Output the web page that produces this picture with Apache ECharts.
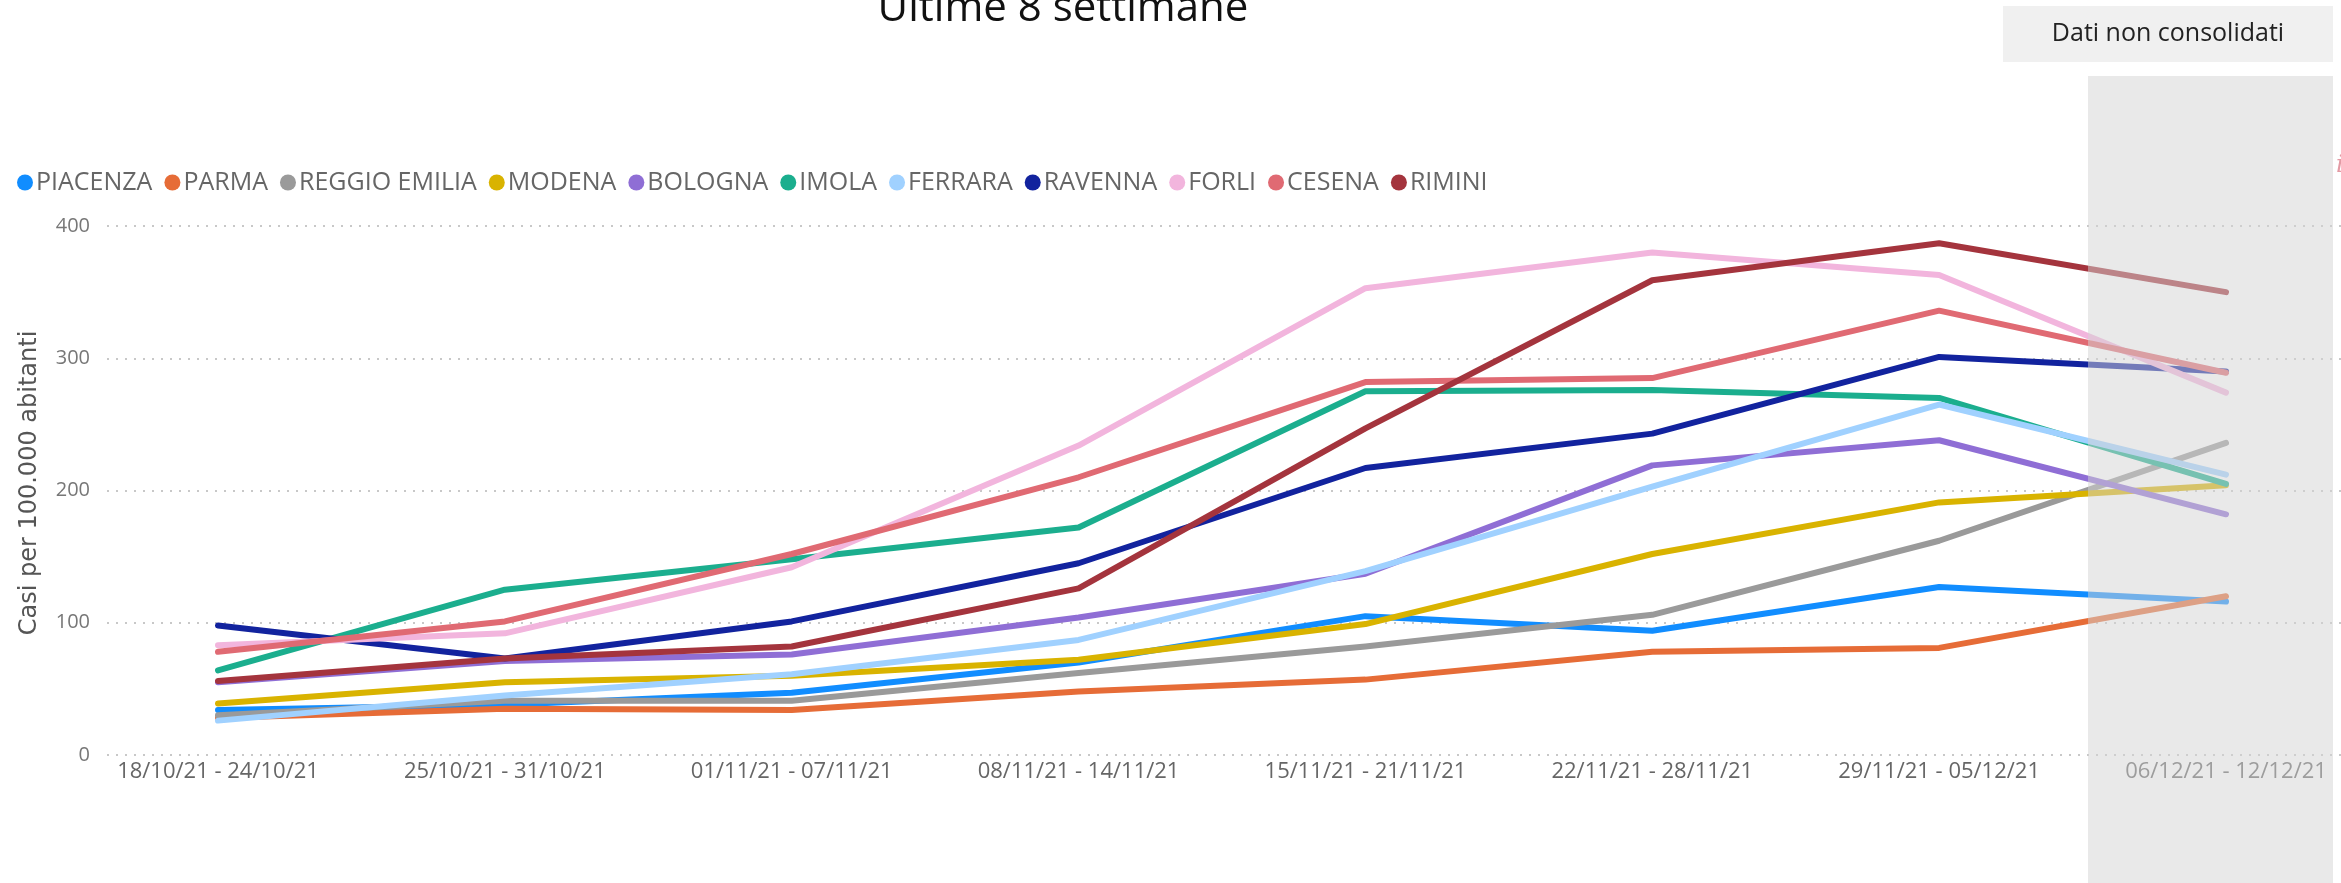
<!DOCTYPE html>
<html>
<head>
<meta charset="utf-8">
<script src="https://cdn.jsdelivr.net/npm/echarts@6/dist/echarts.min.js"></script>
<style>
html,body{margin:0;padding:0;background:#fff;}
#chart{width:2341px;height:883px;}
</style>
</head>
<body>
<div id="chart"></div>
<script>
const categories = ['18/10/21 - 24/10/21','25/10/21 - 31/10/21','01/11/21 - 07/11/21','08/11/21 - 14/11/21','15/11/21 - 21/11/21','22/11/21 - 28/11/21','29/11/21 - 05/12/21','06/12/21 - 12/12/21'];
const yTicks = [0, 100, 200, 300, 400];
const seriesNames = ['PIACENZA','PARMA','REGGIO EMILIA','MODENA','BOLOGNA','IMOLA','FERRARA','RAVENNA','FORLI','CESENA','RIMINI'];
const piacenza = [34, 38, 47, 70, 105, 94, 127, 116];
const parma = [28, 35, 34, 48, 57, 78, 81, 120];
const reggioEmilia = [30, 41, 41, 62, 82, 106, 162, 236];
const modena = [39, 55, 60, 72, 99, 152, 191, 204];
const bologna = [55, 71, 76, 104, 137, 219, 238, 182];
const imola = [64, 125, 148, 172, 275, 276, 270, 205];
const ferrara = [26, 45, 61, 87, 139, 203, 265, 212];
const ravenna = [98, 73, 101, 145, 217, 243, 301, 290];
const forli = [83, 92, 142, 234, 353, 380, 363, 274];
const cesena = [78, 101, 152, 210, 282, 285, 336, 289];
const rimini = [56, 73, 82, 126, 247, 359, 387, 350];
const seriesData = [piacenza, parma, reggioEmilia, modena, bologna, imola, ferrara, ravenna, forli, cesena, rimini];
const colors = ['#118DFF','#E66C37','#9A9A9A','#D9B300','#8F6ED5','#1BAE8E','#A0D1FF','#12239E','#F2B5DD','#E06A73','#A4343D'];

const chart = echarts.init(document.getElementById('chart'), null, {renderer: 'canvas'});
const FONT = '"Open Sans", "Noto Sans", sans-serif';

const option = {
  animation: false,
  color: colors,
  textStyle: {fontFamily: FONT},
  legend: {
    data: seriesNames,
    left: 12,
    top: 165,
    icon: 'circle',
    itemWidth: 16,
    itemHeight: 16,
    itemGap: 12,
    textStyle: {color: '#666', fontSize: 25, fontFamily: FONT, padding: [0,0,0,-2]}
  },
  grid: [
    {left: 107, right: 0, top: 226, height: 529, containLabel: false},
    {left: 218, right: 115, top: 226, height: 529, containLabel: false}
  ],
  xAxis: [
    {gridIndex: 0, type: 'value', min: 0, max: 1, show: false},
    {gridIndex: 1, type: 'category', data: categories, boundaryGap: false,
     axisLine: {show: false}, axisTick: {show: false}, splitLine: {show: false},
     axisLabel: {interval: 0, color: '#666', fontSize: 22, margin: 6, fontFamily: FONT}}
  ],
  yAxis: [
    {gridIndex: 0, type: 'value', min: yTicks[0], max: yTicks[yTicks.length-1], interval: 100,
     axisLine: {show: false}, axisTick: {show: false},
     axisLabel: {color: '#777', fontSize: 20, margin: 17, fontFamily: FONT},
     splitLine: {show: true, lineStyle: {color: '#c8c8c8', width: 2, type: [2, 7]}}},
    {gridIndex: 1, type: 'value', min: yTicks[0], max: yTicks[yTicks.length-1], interval: 100, show: false,
     splitLine: {show: false}}
  ],
  series: seriesNames.map((n, i) => ({
    name: n,
    type: 'line',
    xAxisIndex: 1,
    yAxisIndex: 1,
    data: seriesData[i],
    showSymbol: false,
    symbol: 'none',
    lineStyle: {width: 6, color: colors[i], join: 'round', cap: 'round'},
    itemStyle: {color: colors[i]}
  })),
  graphic: [
    {type: 'text', z: 50, x: 1063, y: 30,
     style: {text: 'Ultime 8 settimane', x: 0, y: 0, fill: '#111', font: '42px ' + FONT, align: 'center', verticalAlign: 'bottom'}},
    {type: 'rect', z: 50, shape: {x: 2003, y: 6, width: 330, height: 56}, style: {fill: '#f0f0f0'}},
    {type: 'text', z: 51, x: 2168, y: 34, style: {text: 'Dati non consolidati', x: 0, y: 0, fill: '#222', font: '25px ' + FONT, align: 'center', verticalAlign: 'middle'}},
    {type: 'text', z: 51, style: {text: 'Casi per 100.000 abitanti', x: 0, y: 0, fill: '#555', font: '24px "DejaVu Sans", sans-serif', align: 'center', verticalAlign: 'middle'},
     x: 30, y: 483, rotation: Math.PI / 2},
    {type: 'rect', z: 100, shape: {x: 2088, y: 76, width: 245, height: 807}, style: {fill: 'rgba(211,211,211,0.5)'}},
    {type: 'text', z: 101, x: 2336, y: 166, style: {text: 'i', x: 0, y: 0, fill: '#e39aa4', font: 'italic 24px "DejaVu Serif", serif', align: 'left', verticalAlign: 'middle'}}
  ]
};
chart.setOption(option);
</script>
</body>
</html>
